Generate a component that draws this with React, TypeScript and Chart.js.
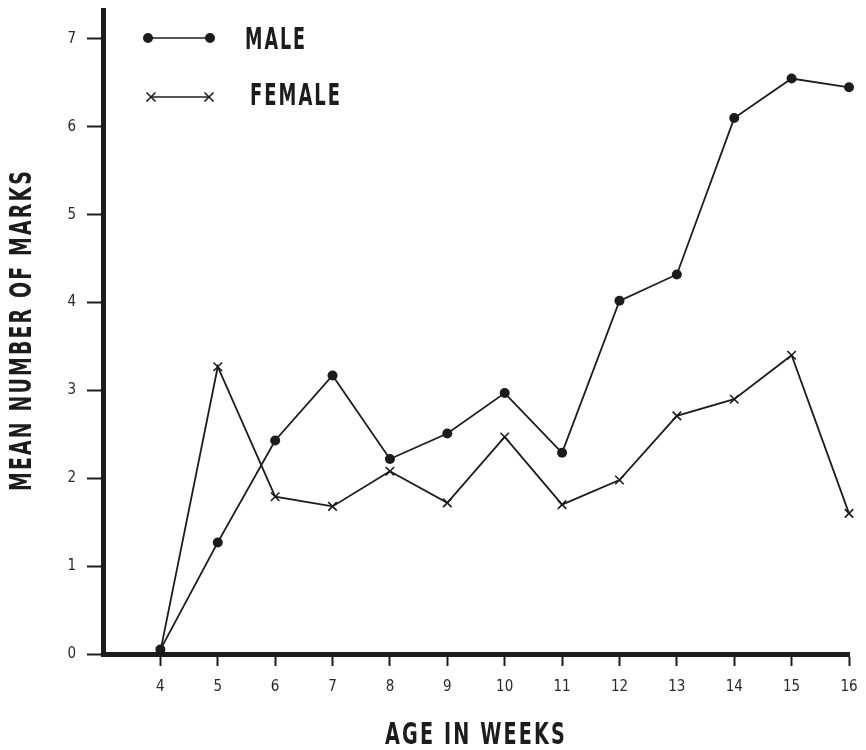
import React, { useEffect, useRef } from "react";
import { Chart, registerables } from "chart.js";

Chart.register(...registerables);

const WEEKS = [4, 5, 6, 7, 8, 9, 10, 11, 12, 13, 14, 15, 16];
const MALE = [0.05, 1.27, 2.43, 3.17, 2.22, 2.51, 2.97, 2.29, 4.02, 4.32, 6.1, 6.55, 6.45];
const FEMALE = [0.03, 3.27, 1.79, 1.68, 2.08, 1.72, 2.47, 1.7, 1.98, 2.71, 2.9, 3.4, 1.6];
const X_TICKS = [4, 5, 6, 7, 8, 9, 10, 11, 12, 13, 14, 15, 16];
const Y_TICKS = [0, 1, 2, 3, 4, 5, 6, 7];
const X_TITLE = "AGE IN WEEKS";
const Y_TITLE = "MEAN NUMBER OF MARKS";
const LEGEND = ["MALE", "FEMALE"];

const NARROW = "'DejaVu Sans Condensed', 'Liberation Sans Narrow', sans-serif";
const INK = "#1c1c1c";

// draw text squeezed horizontally to a given width (still real text)
function fitText(ctx: any, text: string, x: number, y: number, width: number, align: "left" | "center") {
  const w = ctx.measureText(text).width;
  const k = width / w;
  ctx.save();
  ctx.translate(x, y);
  ctx.scale(k, 1);
  ctx.textAlign = align;
  ctx.fillText(text, 0, 0);
  ctx.restore();
}

const decorPlugin = {
  id: "decor",
  afterDraw(chart: any) {
    const ctx = chart.ctx;
    const area = chart.chartArea;
    ctx.save();
    ctx.fillStyle = INK;
    ctx.strokeStyle = INK;
    ctx.font = `bold 30px ${NARROW}`;
    (ctx as any).letterSpacing = "3px";
    ctx.textBaseline = "middle";
    // axis titles
    fitText(ctx, X_TITLE, (area.left + area.right) / 2, 736, 182, "center");
    ctx.save();
    ctx.translate(23, 330);
    ctx.rotate(-Math.PI / 2);
    fitText(ctx, Y_TITLE, 0, 0, 322, "center");
    ctx.restore();

    // legend
    const x0 = 148, x1 = 210;
    ctx.lineWidth = 1.6;
    ctx.beginPath();
    ctx.moveTo(x0, 38);
    ctx.lineTo(x1, 38);
    ctx.stroke();
    for (const x of [x0, x1]) {
      ctx.beginPath();
      ctx.arc(x, 38, 5, 0, Math.PI * 2);
      ctx.fill();
    }
    ctx.beginPath();
    ctx.moveTo(151, 97);
    ctx.lineTo(209, 97);
    ctx.stroke();
    for (const x of [151, 209]) {
      ctx.beginPath();
      ctx.moveTo(x - 4.5, 92.5);
      ctx.lineTo(x + 4.5, 101.5);
      ctx.moveTo(x - 4.5, 101.5);
      ctx.lineTo(x + 4.5, 92.5);
      ctx.stroke();
    }
    fitText(ctx, LEGEND[0], 245, 41, 62, "left");
    fitText(ctx, LEGEND[1], 250, 97, 92, "left");
    ctx.restore();
  },
};

export default function App() {
  const ref = useRef<HTMLCanvasElement | null>(null);

  useEffect(() => {
    if (!ref.current) return;
    const chart = new Chart(ref.current, {
      type: "line",
      data: {
        datasets: [
          {
            label: LEGEND[0],
            data: WEEKS.map((w, i) => ({ x: w, y: MALE[i] })),
            borderColor: INK,
            backgroundColor: INK,
            borderWidth: 1.8,
            pointStyle: "circle",
            pointRadius: 5,
            pointBackgroundColor: INK,
            pointBorderWidth: 0,
            tension: 0,
            clip: false,
          },
          {
            label: LEGEND[1],
            data: WEEKS.map((w, i) => ({ x: w, y: FEMALE[i] })),
            borderColor: INK,
            backgroundColor: INK,
            borderWidth: 1.8,
            pointStyle: "crossRot",
            pointRadius: 6,
            pointBorderWidth: 1.6,
            tension: 0,
            clip: false,
          },
        ],
      },
      options: {
        animation: false,
        responsive: false,
        maintainAspectRatio: false,
        layout: { padding: { left: 0, top: 10, right: 17, bottom: 0 } },
        plugins: { legend: { display: false }, tooltip: { enabled: false } },
        scales: {
          x: {
            type: "linear",
            min: 3,
            max: 16,
            afterBuildTicks: (s: any) => {
              s.ticks = X_TICKS.map((v) => ({ value: v }));
            },
            afterFit: (s: any) => {
              s.height = 96;
              s.paddingLeft = 0;
              s.paddingRight = 0;
            },
            grid: {
              drawOnChartArea: false,
              tickLength: 12,
              tickWidth: 2,
              tickColor: INK,
            },
            border: { display: true, width: 5, color: INK },
            ticks: {
              color: "#2a2a2a",
              font: { family: NARROW, size: 15 },
              padding: 12,
              maxRotation: 0,
              autoSkip: false,
            },
          },
          y: {
            type: "linear",
            min: 0,
            max: 7.33,
            afterBuildTicks: (s: any) => {
              s.ticks = Y_TICKS.map((v) => ({ value: v }));
            },
            afterFit: (s: any) => {
              s.width = 103;
              s.paddingTop = 0;
              s.paddingBottom = 0;
            },
            grid: {
              drawOnChartArea: false,
              tickLength: 16,
              tickWidth: 2,
              tickColor: INK,
            },
            border: { display: true, width: 5, color: INK },
            ticks: {
              color: "#2a2a2a",
              font: { family: NARROW, size: 15 },
              padding: 11,
              autoSkip: false,
            },
          },
        },
      },
      plugins: [decorPlugin],
    } as any);
    return () => chart.destroy();
  }, []);

  return (
    <div style={{ position: "fixed", left: 0, top: 0, width: 866, height: 750, background: "#fff" }}>
      <canvas ref={ref} width={866} height={750} style={{ width: 866, height: 750 }} />
    </div>
  );
}
